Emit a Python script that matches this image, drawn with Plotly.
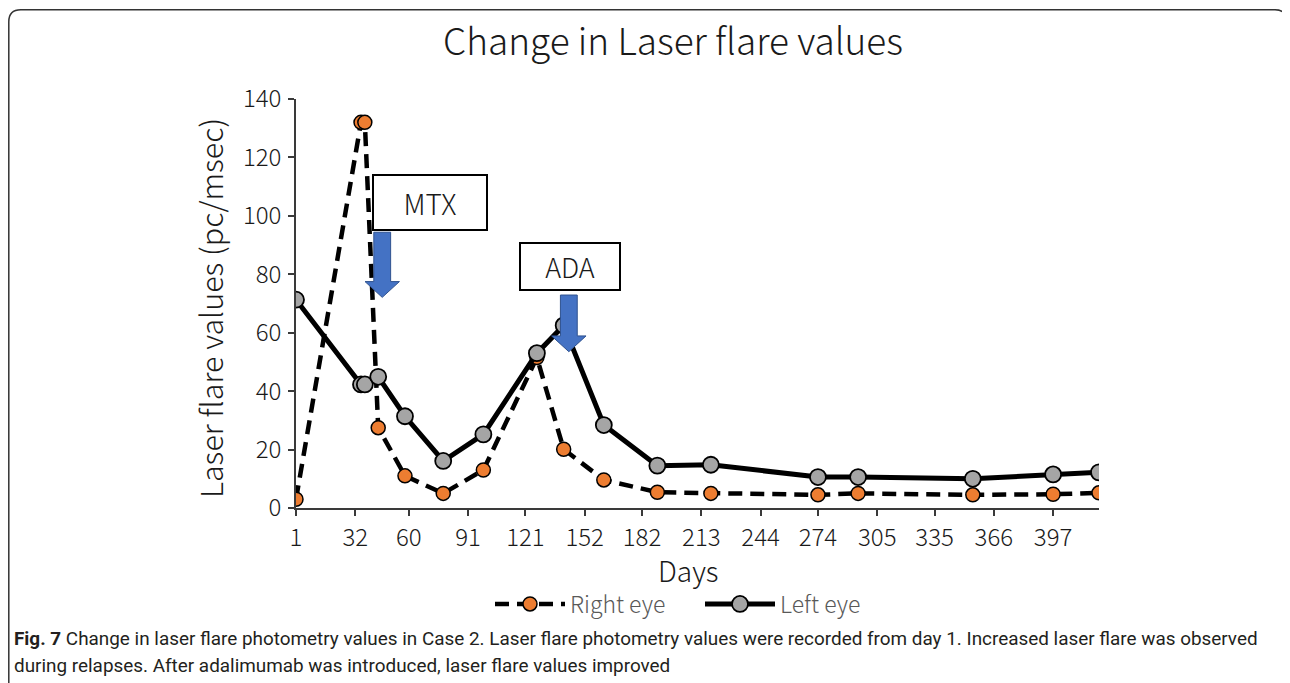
import plotly.graph_objects as go

# ---------------- data ----------------
days = [1, 35, 37, 44, 58, 78, 99, 127, 141, 162, 190, 218, 274, 295, 355, 397, 421]
right_eye = [3, 132, 132, 27.5, 11, 5, 13, 51.5, 20.1, 9.6, 5.4, 5.0, 4.5, 5.0, 4.5, 4.7, 5.2]
left_eye = [71.3, 42.3, 42.3, 44.9, 31.4, 16.1, 25.2, 53, 62.5, 28.4, 14.5, 14.8, 10.6, 10.6, 10.0, 11.5, 12.2]
tick_days = [1, 32, 60, 91, 121, 152, 182, 213, 244, 274, 305, 335, 366, 397]
y_ticks = [0, 20, 40, 60, 80, 100, 120, 140]

FONT = "Noto Sans CJK JP"
FW = 300
OFF = 8  # page body margin of the html page
W, H = 1290, 683
L, R, T, B = 296 - OFF, 1099 - OFF, 99 - OFF, 508 - OFF  # plot area (figure px)
XR = (1, 421)
YR = (0, 140)


def px_x(px):
    """reference-screen x pixel -> paper fraction"""
    return (px - OFF - L) / (R - L)


def px_y(py):
    """reference-screen y pixel -> paper fraction"""
    return (B - (py - OFF)) / (B - T)


fig = go.Figure()

fig.add_trace(go.Scatter(
    x=days, y=right_eye, name="Right eye", mode="lines+markers",
    line=dict(color="black", width=4.5, dash="14px,8px"),
    marker=dict(size=14, color="#ED7D31", line=dict(color="black", width=1.5)),
))
fig.add_trace(go.Scatter(
    x=days, y=left_eye, name="Left eye", mode="lines+markers",
    line=dict(color="black", width=5),
    marker=dict(size=16, color="#A5A5A5", line=dict(color="black", width=1.8)),
))


def block_arrow(tip_day, tip_val, top_val, base_val, shaft_hw, head_hw):
    x0 = tip_day
    p = [
        (x0 - shaft_hw, top_val), (x0 + shaft_hw, top_val),
        (x0 + shaft_hw, base_val), (x0 + head_hw, base_val),
        (x0, tip_val), (x0 - head_hw, base_val),
        (x0 - shaft_hw, base_val),
    ]
    return "M " + " L ".join(f"{a},{b}" for a, b in p) + " Z"


shapes = [
    dict(type="path", xref="x", yref="y", layer="above",
         path=block_arrow(46.1, 72.1, 94.4, 77.5, 4.4, 9.0),
         fillcolor="#4472C4", line=dict(color="#2F528F", width=1)),
    dict(type="path", xref="x", yref="y", layer="above",
         path=block_arrow(143.7, 53.5, 72.9, 58.9, 4.4, 9.0),
         fillcolor="#4472C4", line=dict(color="#2F528F", width=1)),
]

# rounded frame around the whole figure
x0, x1 = px_x(8.8), px_x(1287)
y0, y1 = px_y(9.8), px_y(720)
rx, ry = 12 / (R - L), 12 / (B - T)
frame = (f"M {x0},{y1} L {x0},{y0 - ry} Q {x0},{y0} {x0 + rx},{y0} "
         f"L {x1 - rx},{y0} Q {x1},{y0} {x1},{y0 - ry} L {x1},{y1}")
shapes.append(dict(type="path", xref="paper", yref="paper", path=frame,
                   line=dict(color="#333333", width=1.5), layer="above"))

CAP_FONT = "Roboto"
CAP_SIZE = 18.9
annotations = [
    dict(x=70.97, y=104.6, xref="x", yref="y", text="MTX", showarrow=False,
         font=dict(family=FONT, size=28, color="#1a1a1a", weight=FW),
         bgcolor="white", bordercolor="black", borderwidth=2, borderpad=0,
         width=112, height=53),
    dict(x=144.3, y=82.5, xref="x", yref="y", text="ADA", showarrow=False,
         font=dict(family=FONT, size=27, color="#1a1a1a", weight=FW),
         bgcolor="white", bordercolor="black", borderwidth=2, borderpad=0,
         width=98, height=45),
    dict(x=px_x(210), y=px_y(308), xref="paper", yref="paper",
         xanchor="center", yanchor="middle",
         text="Laser flare values (pc/msec)", textangle=-90, showarrow=False,
         font=dict(family=FONT, size=30.5, color="#1a1a1a", weight=FW)),
    dict(x=px_x(688), y=px_y(570), xref="paper", yref="paper", text="Days",
         xanchor="center", yanchor="middle",
         showarrow=False, font=dict(family=FONT, size=28, color="#1a1a1a", weight=FW)),
    dict(x=px_x(12), y=px_y(638), xref="paper", yref="paper", xanchor="left",
         yanchor="middle", showarrow=False, align="left",
         text="<b>Fig. 7</b> Change in laser flare photometry values in Case 2. "
              "Laser flare photometry values were recorded from day 1. "
              "Increased laser flare was observed",
         font=dict(family=CAP_FONT, size=CAP_SIZE, color="#231f20")),
    dict(x=px_x(12), y=px_y(665), xref="paper", yref="paper", xanchor="left",
         yanchor="middle", showarrow=False, align="left",
         text="during relapses. After adalimumab was introduced, laser flare values improved",
         font=dict(family=CAP_FONT, size=CAP_SIZE, color="#231f20")),
]

axis_common = dict(showgrid=False, zeroline=False, showline=True,
                   linecolor="#3a3a3a", linewidth=1.5,
                   ticks="outside", ticklen=6, tickcolor="#3a3a3a", tickwidth=1.5,
                   tickfont=dict(family=FONT, size=24, color="#1a1a1a", weight=FW))

fig.update_layout(
    width=W, height=H,
    margin=dict(l=L, r=W - R, t=T, b=H - B),
    paper_bgcolor="white", plot_bgcolor="white",
    title=dict(text="Change in Laser flare values", x=(673 - OFF) / W,
               y=1 - (42 - OFF) / H, xanchor="center", yanchor="middle",
               font=dict(family=FONT, size=37, color="#1a1a1a", weight=FW)),
    xaxis=dict(range=list(XR), tickmode="array", tickvals=tick_days,
               ticktext=[str(t) for t in tick_days], ticklabelstandoff=1,
               **axis_common),
    yaxis=dict(range=list(YR), tickmode="array", tickvals=y_ticks,
               ticklabelstandoff=2, **axis_common),
    legend=dict(orientation="h", x=px_x(700), y=px_y(604),
                xanchor="center", yanchor="middle", itemwidth=70,
                entrywidth=125, entrywidthmode="pixels",
                font=dict(family=FONT, size=23, color="#595959", weight=FW),
                bgcolor="rgba(0,0,0,0)"),
    shapes=shapes,
    annotations=annotations,
)

fig.write_html("out.html")
